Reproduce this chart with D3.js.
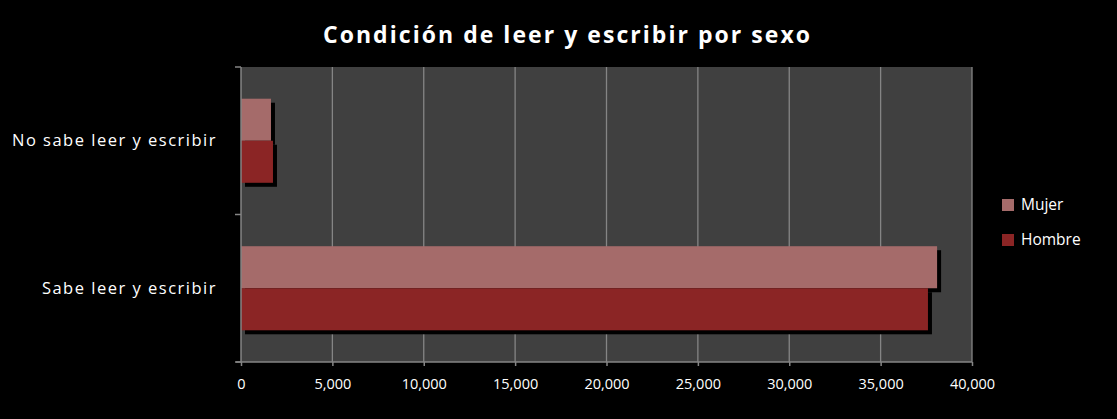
<!DOCTYPE html>
<html lang="es">
<head>
  <meta charset="utf-8">
  <script src="https://d3js.org/d3.v7.min.js"></script>
  <style>
    body { margin: 0; background: #000; }
    svg { display: block; font-family: "Open Sans", "Noto Sans", sans-serif; }
  </style>
</head>
<body>
<div id="chart"></div>
<script>
  const categories = ['No sabe leer y escribir', 'Sabe leer y escribir'];
  const seriesNames = ['Mujer', 'Hombre'];
  const mujer = [1640, 38090];
  const hombre = [1750, 37590];
  const xTicks = [0, 5000, 10000, 15000, 20000, 25000, 30000, 35000, 40000];
  const colors = { Mujer: '#a56b6a', Hombre: '#8b2525' };

  const W = 1117, H = 419;
  const plot = { left: 241, top: 67, right: 972, bottom: 362 };
  const font = '"Open Sans", "Noto Sans", sans-serif';

  const svg = d3.select('#chart').append('svg')
    .attr('width', W).attr('height', H);

  svg.append('rect').attr('width', W).attr('height', H).attr('fill', '#000');

  const x = d3.scaleLinear().domain([0, 40000]).range([plot.left, plot.right]);
  const y = d3.scaleBand().domain(categories).range([plot.top, plot.bottom]).paddingInner(0.43).paddingOuter(0.215);
  const ySub = d3.scaleBand().domain(seriesNames).range([0, y.bandwidth()]);

  // plot background
  svg.append('rect')
    .attr('x', plot.left).attr('y', plot.top)
    .attr('width', plot.right - plot.left).attr('height', plot.bottom - plot.top)
    .attr('fill', '#404040');

  // gridlines
  svg.append('g').selectAll('line').data(xTicks.slice(1)).join('line')
    .attr('x1', d => x(d)).attr('x2', d => x(d))
    .attr('y1', plot.top).attr('y2', plot.bottom)
    .attr('stroke', '#858585').attr('stroke-width', 1.3);

  const rows = categories.map((c, i) => ({ cat: c, Mujer: mujer[i], Hombre: hombre[i] }));
  const bars = [];
  rows.forEach(r => seriesNames.forEach(s => bars.push({ cat: r.cat, s: s, v: r[s] })));

  // shadows first
  svg.append('g').selectAll('rect').data(bars).join('rect')
    .attr('x', d => x(0) + 4)
    .attr('y', d => y(d.cat) + ySub(d.s) + 4)
    .attr('width', d => x(d.v) - x(0))
    .attr('height', ySub.bandwidth())
    .attr('fill', '#000');

  svg.append('g').selectAll('rect').data(bars).join('rect')
    .attr('x', x(0))
    .attr('y', d => y(d.cat) + ySub(d.s))
    .attr('width', d => x(d.v) - x(0))
    .attr('height', ySub.bandwidth())
    .attr('fill', d => colors[d.s]);

  // x axis
  const xAxis = svg.append('g')
    .attr('transform', `translate(0,${plot.bottom})`)
    .call(d3.axisBottom(x).tickValues(xTicks).tickFormat(d3.format(',')).tickSizeOuter(0).tickSize(4));
  xAxis.attr('font-family', font);
  xAxis.select('.domain').attr('stroke', '#858585').attr('stroke-width', 1.5)
    .attr('d', `M${plot.left - 5},0H${plot.right}`);
  xAxis.selectAll('.tick line').attr('stroke', '#858585').attr('stroke-width', 1.5);
  xAxis.selectAll('.tick text').attr('fill', '#fff').attr('font-size', 14.5).attr('dy', '1.4em');

  // y axis
  const yAxis = svg.append('g')
    .attr('transform', `translate(${plot.left},0)`)
    .call(d3.axisLeft(y).tickSize(0).tickPadding(24));
  yAxis.attr('font-family', font);
  yAxis.select('.domain').attr('stroke', '#858585').attr('stroke-width', 1.5)
    .attr('d', `M0,${plot.top}V${plot.bottom}`);
  yAxis.selectAll('.tick text').attr('fill', '#fff').attr('font-size', 16.5)
    .attr('letter-spacing', '1.5px');

  const yBounds = [plot.top, (plot.top + plot.bottom) / 2, plot.bottom];
  svg.append('g').selectAll('line').data(yBounds).join('line')
    .attr('x1', plot.left - 6).attr('x2', plot.left)
    .attr('y1', d => d).attr('y2', d => d)
    .attr('stroke', '#858585').attr('stroke-width', 1.5);

  // title
  svg.append('text')
    .attr('x', 323).attr('y', 43)
    .attr('textLength', 487).attr('lengthAdjust', 'spacing')
    .attr('fill', '#fff').attr('font-size', 23).attr('font-weight', 'bold')
    .text('Condición de leer y escribir por sexo');

  // legend
  const legend = svg.append('g').selectAll('g').data(seriesNames).join('g')
    .attr('transform', (d, i) => `translate(1002,${199 + i * 35})`);
  legend.append('rect').attr('width', 12).attr('height', 12).attr('fill', d => colors[d]);
  legend.append('text').attr('x', 19).attr('y', 6).attr('dy', '0.35em')
    .attr('fill', '#fff').attr('font-size', 15.5).text(d => d);
</script>
</body>
</html>
